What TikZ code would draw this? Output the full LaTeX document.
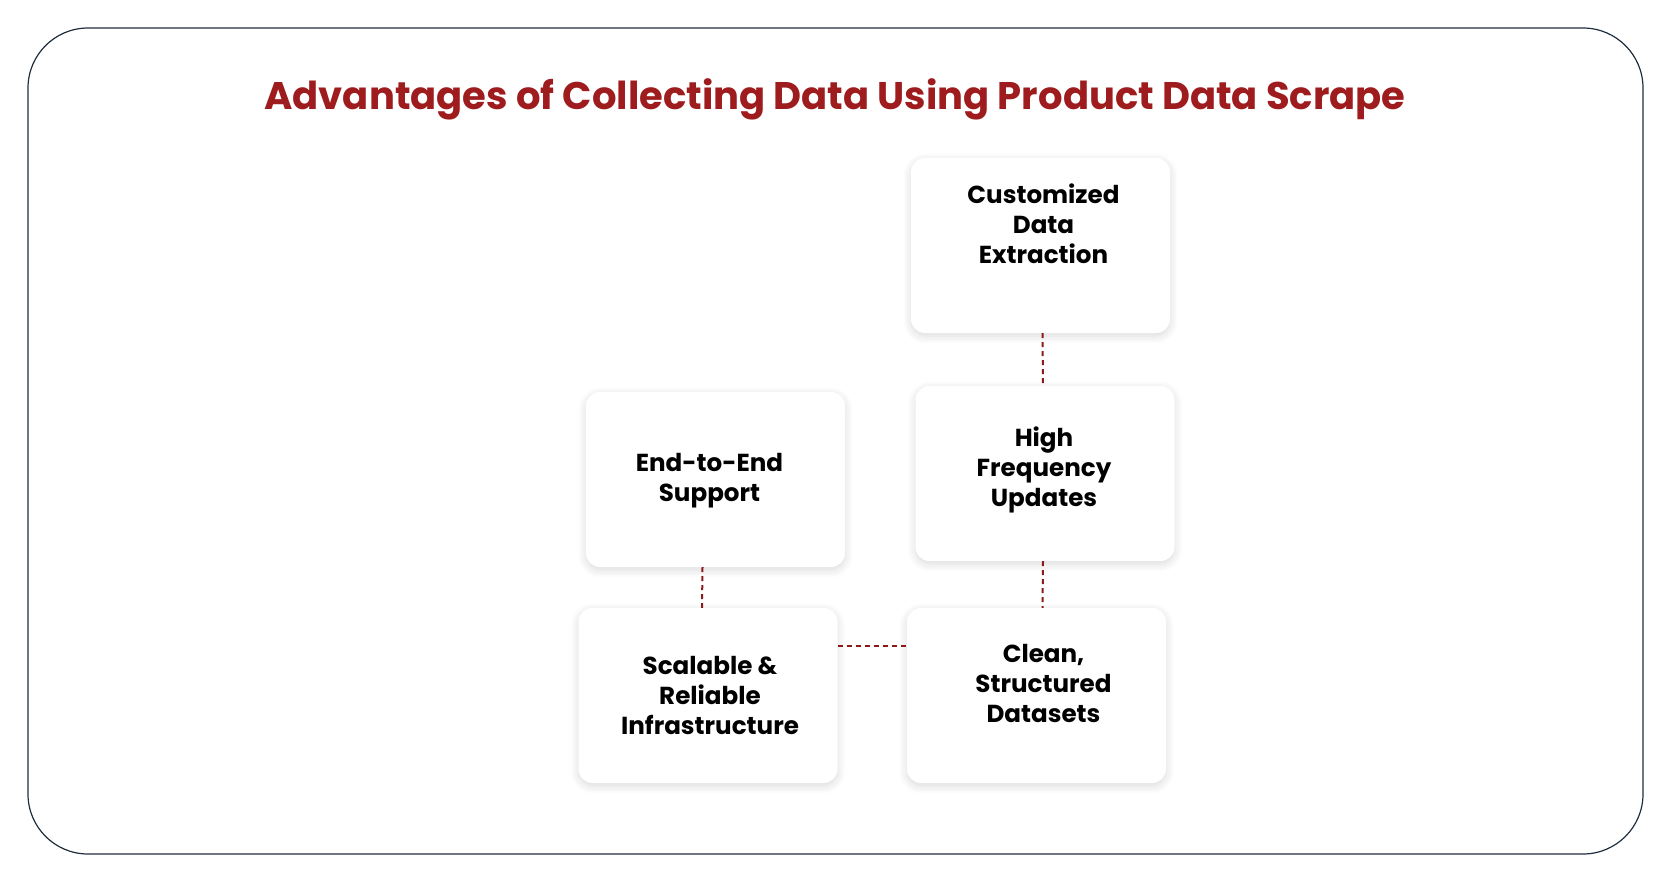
\documentclass[tikz,border=0pt]{standalone}
\usepackage{fontspec}
\setmainfont{Poppins}
\usetikzlibrary{shadows.blur}
\definecolor{ttl}{HTML}{9E1B1E}
\definecolor{frm}{HTML}{1F2D3D}
\definecolor{dash}{HTML}{8B1A1A}
\begin{document}
\begin{tikzpicture}[x=1pt,y=-1pt,
  card/.style={fill=white,rounded corners=14pt,minimum width=259pt,minimum height=175pt,inner sep=0pt,
    blur shadow={shadow blur steps=10,shadow xshift=0pt,shadow yshift=-3pt,shadow blur extra rounding=8pt,shadow opacity=15,shadow blur radius=8pt}},
  lbl/.style={font=\fontsize{24.6}{30}\selectfont\bfseries,align=center,anchor=north},
  conn/.style={draw=dash,line width=2pt,dash pattern=on 5pt off 4pt}]
\useasboundingbox (0,0) rectangle (1673,881);
\draw[frm,line width=1.2pt,rounded corners=60pt] (28,28) rectangle (1643,854);
\node[font=\fontsize{38.5}{46}\selectfont\bfseries,text=ttl] (title) at (835,99) {Advantages of Collecting Data Using Product Data Scrape};
\node[card] (c1) at (1040.5,245.5) {};
\node[card] (c2) at (1045,473.5) {};
\node[card] (c3) at (715.5,479.5) {};
\node[card] (c4) at (708,695.5) {};
\node[card] (c5) at (1036.5,695.5) {};
\node[lbl] (t1) at ([yshift=-22pt,xshift=3pt]c1.north) {Customized\\Data\\Extraction};
\node[lbl] (t2) at ([yshift=-37pt,xshift=-1pt]c2.north) {High\\Frequency\\Updates};
\node[lbl] (t3) at ([yshift=-58pt,xshift=-6pt]c3.north) {End-to-End\\Support};
\node[lbl] (t4) at ([yshift=-45pt,xshift=2pt]c4.north) {Scalable \&\\Reliable\\Infrastructure};
\node[lbl] (t5) at ([yshift=-33pt,xshift=7pt]c5.north) {Clean,\\Structured\\Datasets};
\draw[conn] ([xshift=2pt]c1.south) -- ([xshift=-2pt]c2.north);
\draw[conn] ([xshift=-2pt]c2.south) -- ([xshift=6pt]c5.north);
\draw[conn] ([xshift=-13pt]c3.south) -- ([xshift=-6pt]c4.north);
\draw[conn] ([yshift=50pt]c4.east) -- ([yshift=50pt]c5.west);
\end{tikzpicture}
\end{document}
